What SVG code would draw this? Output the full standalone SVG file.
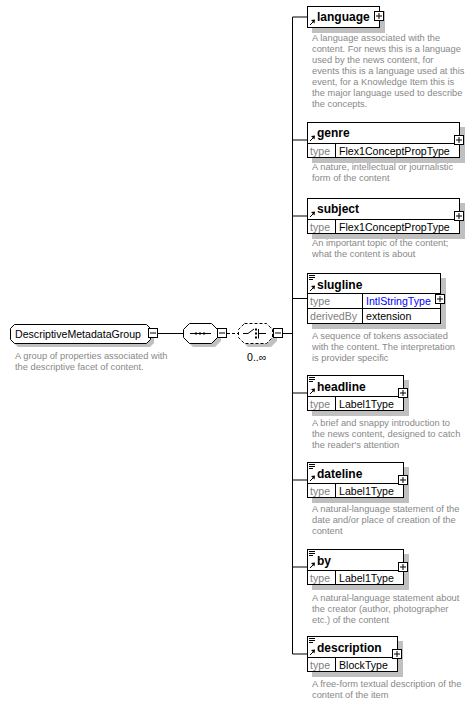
<svg xmlns="http://www.w3.org/2000/svg" xmlns:xlink="http://www.w3.org/1999/xlink" width="476" height="705" viewBox="0 0 476 705">
<style>
.bg{fill:#fff}
.box{fill:#fff;stroke:#000;stroke-width:1}
.sh{fill:#c0c0c0}
.ln{stroke:#000;stroke-width:1;fill:none}
.dash{stroke:#000;stroke-width:1;fill:none;stroke-dasharray:3,2}
.nm{font-family:"Liberation Sans",Arial,sans-serif;font-weight:bold;font-size:12px;fill:#000}
.tx{font-family:"Liberation Sans",Arial,sans-serif;font-size:10.6px;fill:#000}
.lb{font-family:"Liberation Sans",Arial,sans-serif;font-size:10.6px;fill:#808080}
.bl{font-family:"Liberation Sans",Arial,sans-serif;font-size:10.6px;fill:#0000ff}
.ds{font-family:"Liberation Sans",Arial,sans-serif;font-size:9.3px;fill:#888}
</style>
<defs>
<g id="plus"><rect x="0.5" y="0.5" width="9" height="9" fill="#fff" stroke="#000"/><path d="M2 5H8M5 2V8" stroke="#000" fill="none"/></g>
<g id="minus"><rect x="0.5" y="0.5" width="9" height="9" fill="#fff" stroke="#000"/><path d="M2 5H8" stroke="#000" fill="none"/></g>
<g id="ref"><path d="M3 -2.5L6.5 -6" stroke="#000" fill="none"/><polygon points="8,-8 4,-7.5 7.5,-4" fill="#000"/></g>
<g id="lines"><rect x="2" y="2" width="6" height="1" fill="#000"/><rect x="2" y="4" width="6" height="1" fill="#000"/><rect x="2" y="6" width="4" height="1" fill="#000"/></g>
</defs>
<rect width="476" height="705" class="bg"/>

<g id="connectors">
<path class="ln" d="M158 333.5H183"/>
<path class="dash" d="M227 333.5H238"/>
<path class="ln" d="M283 333.5H292.5"/>
<path class="ln" d="M292.5 17V654"/>
<path class="ln" d="M292.5 17H307M292.5 140H307M292.5 216H307M292.5 298.5H307M292.5 393H307M292.5 480H307M292.5 567H307M292.5 654H307"/>
</g>

<g id="DescriptiveMetadataGroup">
<path class="sh" d="M18 328H150L154 332V343L150 347H18L14 343V332Z"/>
<path class="box" d="M14.5 324.5H146.5L150.5 328.5V339.5L146.5 343.5H14.5L10.5 339.5V328.5Z"/>
<text class="tx" x="15" y="337.5">DescriptiveMetadataGroup</text>
<use xlink:href="#minus" x="148" y="328"/>
<text class="ds" x="15" y="359">A group of properties associated with</text>
<text class="ds" x="15" y="370">the descriptive facet of content.</text>
</g>

<g id="sequence">
<path class="sh" d="M193 327H215L221 333V341L215 347H193L187 341V333Z"/>
<path class="box" d="M189.5 323.5H211.5L217.5 329.5V337.5L211.5 343.5H189.5L183.5 337.5V329.5Z"/>
<path class="ln" d="M190 333.5H211"/>
<rect x="195" y="332.5" width="2" height="2" fill="#000"/>
<rect x="199" y="332.5" width="2" height="2" fill="#000"/>
<rect x="203" y="332.5" width="2" height="2" fill="#000"/>
<use xlink:href="#minus" x="217" y="328"/>
</g>

<g id="choice">
<path class="sh" d="M248 327H271L277 333V341L271 347H248L242 341V333Z"/>
<path class="box" style="stroke-dasharray:3,2" d="M244.5 323.5H266.5L272.5 329.5V337.5L266.5 343.5H244.5L238.5 337.5V329.5Z"/>
<path class="ln" d="M243 333.5H248L254 329"/>
<rect x="255" y="328.5" width="2" height="2" fill="#000"/>
<rect x="255" y="332.5" width="2" height="2" fill="#000"/>
<rect x="255" y="336.5" width="2" height="2" fill="#000"/>
<path class="ln" d="M258.5 329V338.5M258.5 333.5H266"/>
<use xlink:href="#minus" x="273" y="328"/>
<text class="tx" x="247" y="361">0..∞</text>
</g>

<g id="language">
<rect class="sh" x="312" y="11" width="73" height="22"/>
<rect class="box" x="307.5" y="6.5" width="72" height="21"/>
<use xlink:href="#ref" x="307" y="27.5"/>
<text class="nm" x="317" y="21">language</text>
<use xlink:href="#plus" x="374" y="11"/>
<text class="ds" x="312" y="41">A language associated with the</text>
<text class="ds" x="312" y="52">content. For news this is a language</text>
<text class="ds" x="312" y="63">used by the news content, for</text>
<text class="ds" x="312" y="74">events this is a language used at this</text>
<text class="ds" x="312" y="85">event, for a Knowledge Item this is</text>
<text class="ds" x="312" y="96">the major language used to describe</text>
<text class="ds" x="312" y="107">the concepts.</text>
</g>

<g id="genre">
<rect class="sh" x="312" y="127" width="153" height="36"/>
<rect class="box" x="307.5" y="122.5" width="152" height="35"/>
<path class="ln" d="M307.5 143.5H459.5M335.5 143.5V157.5"/>
<use xlink:href="#ref" x="307" y="143.5"/>
<text class="nm" x="317" y="137">genre</text>
<text class="lb" x="310" y="154.5">type</text>
<text class="tx" x="339" y="154.5">Flex1ConceptPropType</text>
<use xlink:href="#plus" x="454" y="135"/>
<text class="ds" x="312" y="170">A nature, intellectual or journalistic</text>
<text class="ds" x="312" y="181">form of the content</text>
</g>

<g id="subject">
<rect class="sh" x="312" y="203" width="153" height="36"/>
<rect class="box" x="307.5" y="198.5" width="152" height="35"/>
<path class="ln" d="M307.5 219.5H459.5M335.5 219.5V233.5"/>
<use xlink:href="#ref" x="307" y="219.5"/>
<text class="nm" x="317" y="213">subject</text>
<text class="lb" x="310" y="230.5">type</text>
<text class="tx" x="339" y="230.5">Flex1ConceptPropType</text>
<use xlink:href="#plus" x="454" y="211"/>
<text class="ds" x="312" y="246">An important topic of the content;</text>
<text class="ds" x="312" y="257">what the content is about</text>
</g>

<g id="slugline">
<rect class="sh" x="312" y="278" width="134" height="51"/>
<rect class="box" x="307.5" y="273.5" width="133" height="50"/>
<path class="ln" d="M307.5 293.5H440.5M307.5 308.5H440.5M362.5 293.5V323.5"/>
<use xlink:href="#lines" x="307" y="273"/>
<use xlink:href="#ref" x="307" y="293.5"/>
<text class="nm" x="317" y="289">slugline</text>
<text class="lb" x="310" y="305">type</text>
<text class="bl" x="366" y="305">IntlStringType</text>
<text class="lb" x="310" y="320">derivedBy</text>
<text class="tx" x="366" y="320">extension</text>
<use xlink:href="#plus" x="435" y="294"/>
<text class="ds" x="312" y="339">A sequence of tokens associated</text>
<text class="ds" x="312" y="350">with the content. The interpretation</text>
<text class="ds" x="312" y="361">is provider specific</text>
</g>

<g id="headline">
<rect class="sh" x="312" y="380" width="97" height="36"/>
<rect class="box" x="307.5" y="375.5" width="96" height="35"/>
<path class="ln" d="M307.5 396.5H403.5M335.5 396.5V410.5"/>
<use xlink:href="#lines" x="307" y="375"/>
<use xlink:href="#ref" x="307" y="396.5"/>
<text class="nm" x="317" y="391">headline</text>
<text class="lb" x="310" y="407.5">type</text>
<text class="tx" x="339" y="407.5">Label1Type</text>
<use xlink:href="#plus" x="398" y="388"/>
<text class="ds" x="312" y="426">A brief and snappy introduction to</text>
<text class="ds" x="312" y="437">the news content, designed to catch</text>
<text class="ds" x="312" y="448">the reader's attention</text>
</g>

<g id="dateline">
<rect class="sh" x="312" y="467" width="97" height="36"/>
<rect class="box" x="307.5" y="462.5" width="96" height="35"/>
<path class="ln" d="M307.5 483.5H403.5M335.5 483.5V497.5"/>
<use xlink:href="#lines" x="307" y="462"/>
<use xlink:href="#ref" x="307" y="483.5"/>
<text class="nm" x="317" y="478">dateline</text>
<text class="lb" x="310" y="494.5">type</text>
<text class="tx" x="339" y="494.5">Label1Type</text>
<use xlink:href="#plus" x="398" y="475"/>
<text class="ds" x="312" y="512">A natural-language statement of the</text>
<text class="ds" x="312" y="523">date and/or place of creation of the</text>
<text class="ds" x="312" y="534">content</text>
</g>

<g id="by">
<rect class="sh" x="312" y="554" width="97" height="36"/>
<rect class="box" x="307.5" y="549.5" width="96" height="35"/>
<path class="ln" d="M307.5 570.5H403.5M335.5 570.5V584.5"/>
<use xlink:href="#lines" x="307" y="549"/>
<use xlink:href="#ref" x="307" y="570.5"/>
<text class="nm" x="317" y="565">by</text>
<text class="lb" x="310" y="581.5">type</text>
<text class="tx" x="339" y="581.5">Label1Type</text>
<use xlink:href="#plus" x="398" y="562"/>
<text class="ds" x="312" y="601">A natural-language statement about</text>
<text class="ds" x="312" y="612">the creator (author, photographer</text>
<text class="ds" x="312" y="623">etc.) of the content</text>
</g>

<g id="description">
<rect class="sh" x="312" y="641" width="91" height="36"/>
<rect class="box" x="307.5" y="636.5" width="90" height="35"/>
<path class="ln" d="M307.5 657.5H397.5M335.5 657.5V671.5"/>
<use xlink:href="#lines" x="307" y="636"/>
<use xlink:href="#ref" x="307" y="657.5"/>
<text class="nm" x="317" y="652">description</text>
<text class="lb" x="310" y="668.5">type</text>
<text class="tx" x="339" y="668.5">BlockType</text>
<use xlink:href="#plus" x="392" y="649"/>
<text class="ds" x="312" y="687">A free-form textual description of the</text>
<text class="ds" x="312" y="698">content of the item</text>
</g>
</svg>
